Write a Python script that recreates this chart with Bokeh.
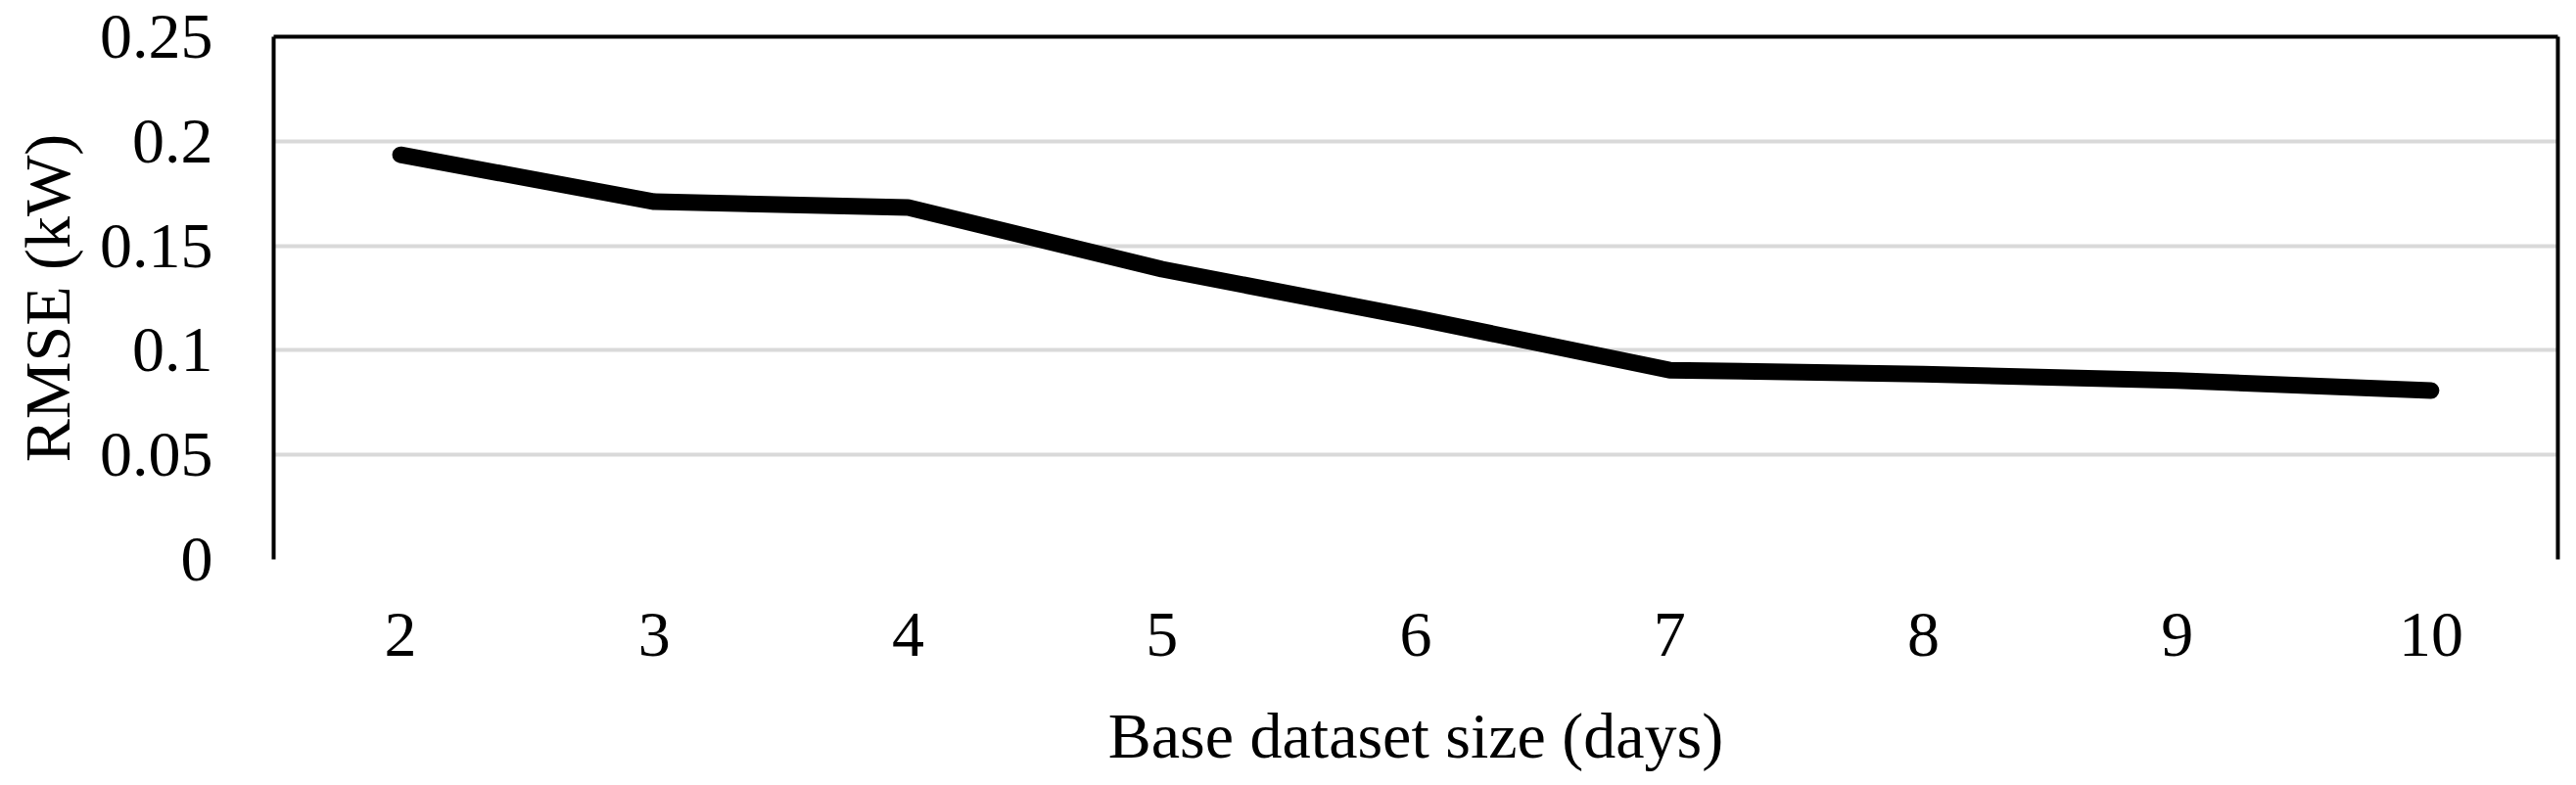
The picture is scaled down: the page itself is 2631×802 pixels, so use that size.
from bokeh.plotting import figure
from bokeh.models import Range1d, FixedTicker, LinearAxis
from bokeh.embed import file_html
from bokeh.resources import INLINE

# ---- data ----
days = [2, 3, 4, 5, 6, 7, 8, 9, 10]
rmse = [0.1935, 0.1711, 0.1683, 0.1388, 0.1155, 0.0905, 0.0886, 0.0855, 0.0808]
y_ticks = [0, 0.05, 0.1, 0.15, 0.2, 0.25]
y_tick_labels = ["0", "0.05", "0.1", "0.15", "0.2", "0.25"]
x_title = "Base dataset size (days)"
y_title = "RMSE (kW)"

FONT = "Liberation Serif"

p = figure(
    x_range=Range1d(days[0] - 0.5, days[-1] + 0.5),
    y_range=Range1d(0, 0.25),
    frame_width=2333, frame_height=534,
    min_border_left=279, min_border_top=37, min_border_right=10, min_border_bottom=225,
    output_backend="svg", toolbar_location=None,
    background_fill_color="white", border_fill_color="white",
)
p.outline_line_color = None

# gridlines
p.xgrid.grid_line_color = None
p.ygrid.ticker = FixedTicker(ticks=y_ticks)
p.ygrid.grid_line_color = "#d9d9d9"
p.ygrid.grid_line_width = 4

# y axis
ya = p.yaxis[0]
ya.ticker = FixedTicker(ticks=y_ticks)
ya.major_label_overrides = {t: l for t, l in zip(y_ticks, y_tick_labels)}
ya.major_tick_in = 0
ya.major_tick_out = 0
ya.minor_tick_in = 0
ya.minor_tick_out = 0
ya.axis_line_color = "black"
ya.axis_line_width = 4
ya.major_label_standoff = 62
ya.major_label_text_font = FONT
ya.major_label_text_font_size = "66px"
ya.major_label_text_color = "black"
ya.axis_label = y_title
ya.axis_label_text_font = FONT
ya.axis_label_text_font_size = "66px"
ya.axis_label_text_font_style = "normal"
ya.axis_label_text_color = "black"
ya.axis_label_standoff = 14

# x axis
xa = p.xaxis[0]
xa.ticker = FixedTicker(ticks=days)
xa.major_tick_in = 0
xa.major_tick_out = 0
xa.minor_tick_in = 0
xa.minor_tick_out = 0
xa.axis_line_color = None
xa.major_label_standoff = 55
xa.major_label_text_font = FONT
xa.major_label_text_font_size = "66px"
xa.major_label_text_color = "black"
xa.axis_label = x_title
xa.axis_label_text_font = FONT
xa.axis_label_text_font_size = "66px"
xa.axis_label_text_font_style = "normal"
xa.axis_label_text_color = "black"
xa.axis_label_standoff = 42

# right and top border lines (axes without ticks or labels)
ra = LinearAxis(ticker=FixedTicker(ticks=[]), major_tick_in=0, major_tick_out=0,
                minor_tick_in=0, minor_tick_out=0,
                axis_line_color="black", axis_line_width=4, major_label_standoff=0)
p.add_layout(ra, "right")
ta = LinearAxis(ticker=FixedTicker(ticks=[]), major_tick_in=0,
                major_tick_out=0, minor_tick_in=0, minor_tick_out=0,
                axis_line_color="black", axis_line_width=4, major_label_standoff=0)
p.add_layout(ta, "above")

p.line(x=days, y=rmse, line_width=17, line_color="black",
       line_cap="round", line_join="round")

open("out.html", "w").write(file_html(p, INLINE))
